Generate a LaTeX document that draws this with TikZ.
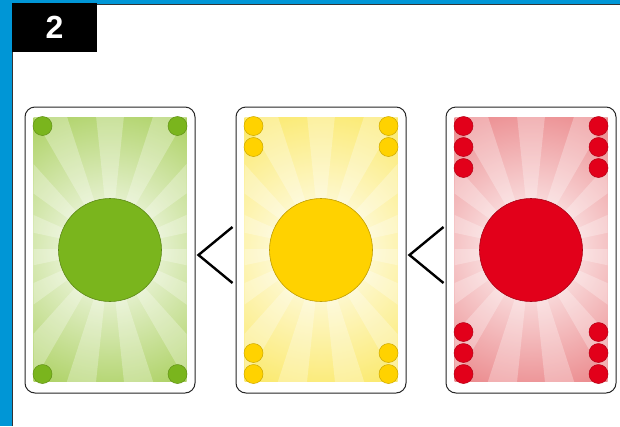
\documentclass[tikz,border=0pt]{standalone}
\usepackage{fontspec}
\setmainfont{Liberation Sans}

\definecolor{frameblue}{HTML}{0096D6}
\definecolor{dotgreen}{HTML}{7AB51D}
\definecolor{dotyellow}{HTML}{FFD200}
\definecolor{dotred}{HTML}{E2001A}
\definecolor{sungreen}{HTML}{8CBF26}
\definecolor{sunyellow}{HTML}{F9E030}
\definecolor{sunred}{HTML}{E35A5E}

\begin{document}
\begin{tikzpicture}[
  x=1pt, y=-1pt, line width=0.8pt,
  card/.style={draw=black!85, line width=1pt, rounded corners=10pt, fill=white,
    minimum width=170pt, minimum height=286pt, inner sep=0pt},
  sun/.style={circle, draw=#1!75!black, line width=0.6pt, fill=#1,
    minimum size=103pt, inner sep=0pt},
  pip/.style={circle, draw=#1!80!black, line width=0.5pt, fill=#1,
    minimum size=19pt, inner sep=0pt},
  chevron/.style={line width=2.4pt, line join=miter},
  numbox/.style={fill=black, text=white, minimum width=85pt, minimum height=49pt,
    inner sep=0pt, font=\bfseries\fontsize{32}{32}\selectfont}
]
  \useasboundingbox (0,0) rectangle (620,426);

  % frame
  \fill[frameblue] (0,0) rectangle (620,3.5);
  \fill[frameblue] (0,0) rectangle (12,426);
  \draw[black!80, line width=1.2pt] (620,4.2) -- (12.6,4.2) -- (12.6,426);
  \node[numbox] (num) at (54.5,27.5) {\raisebox{-2pt}{2}};

  % cards
  \foreach \cx/\col/\n in {110/green/1, 321/yellow/2, 531/red/3} {
    \node[card] (card-\col) at (\cx,250) {};
    \begin{scope}
      \clip (\cx-76.5,117) rectangle (\cx+76.5,381);
      \shade[inner color=white, outer color=sun\col] (\cx,249) circle (210);
      \foreach \a in {0,24,...,336}
        \fill[white, opacity=0.28] (\cx,249) -- +(\a:220) -- +(\a+12:220) -- cycle;
    \end{scope}
    \node[sun=dot\col] (sun-\col) at (\cx,250) {};
    \foreach \k in {1,...,\n} {
      \node[pip=dot\col] (pip-\col-tl\k) at (\cx-67.5,105+21*\k) {};
      \node[pip=dot\col] (pip-\col-tr\k) at (\cx+67.5,105+21*\k) {};
      \node[pip=dot\col] (pip-\col-bl\k) at (\cx-67.5,395-21*\k) {};
      \node[pip=dot\col] (pip-\col-br\k) at (\cx+67.5,395-21*\k) {};
    }
  }

  % less-than signs
  \draw[chevron] (232.5,227) -- (198.5,255) -- (232.5,283);
  \draw[chevron] (443.5,227) -- (409.5,255) -- (443.5,283);
\end{tikzpicture}
\end{document}
